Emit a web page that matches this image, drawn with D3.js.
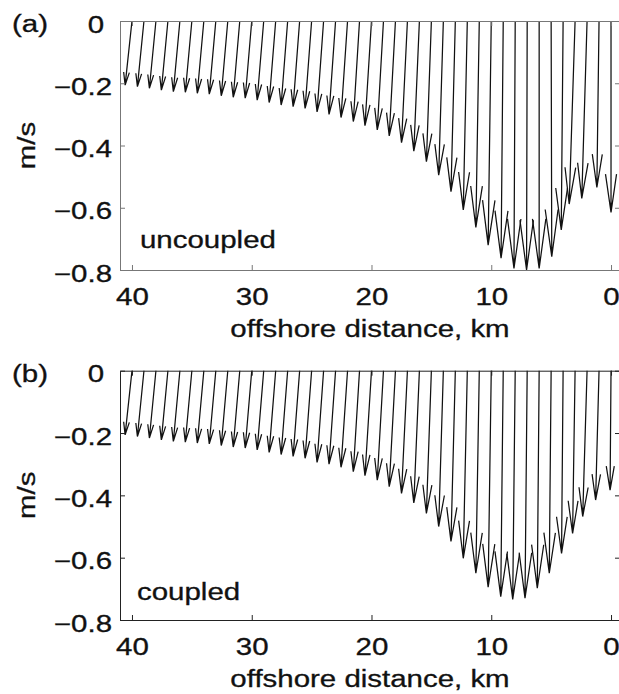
<!DOCTYPE html>
<html>
<head>
<meta charset="utf-8">
<script src="https://cdn.jsdelivr.net/npm/d3@7"></script>
<style>
  body { margin: 0; background: #fff; }
  text { font-family: "Liberation Sans", Arial, sans-serif; font-size: 23px; fill: #111; stroke: #111; stroke-width: 0.3px; }
</style>
</head>
<body>
<div id="chart"></div>
<script>
// offshore position of each vector, km
const distanceKm = [0, 1, 2, 3, 4, 5, 6, 7, 8, 9, 10, 11, 12, 13, 14, 15, 16, 17, 18, 19, 20,
  21, 22, 23, 24, 25, 26, 27, 28, 29, 30, 31, 32, 33, 34, 35, 36, 37, 38, 39, 40];

// (a) uncoupled: cross-shore (u, + shoreward) and alongshore (v) velocity, m/s
const uncoupledU = [0, -0.007, -0.017, -0.019, -0.006, 0.002, 0, -0.002, -0.004, -0.007, -0.010,
  -0.011, -0.013, -0.014, -0.015, -0.016, -0.018, -0.019, -0.020, -0.020, -0.021,
  -0.020, -0.021, -0.021, -0.021, -0.021, -0.021, -0.021, -0.021, -0.021, -0.021,
  -0.021, -0.021, -0.021, -0.021, -0.021, -0.021, -0.021, -0.021, -0.021, -0.022];
const uncoupledV = [-0.615, -0.535, -0.570, -0.588, -0.671, -0.757, -0.795, -0.800, -0.795, -0.762, -0.720,
  -0.663, -0.607, -0.548, -0.495, -0.452, -0.418, -0.391, -0.369, -0.350, -0.336,
  -0.323, -0.310, -0.300, -0.292, -0.281, -0.275, -0.270, -0.262, -0.254, -0.248,
  -0.245, -0.240, -0.235, -0.232, -0.229, -0.227, -0.222, -0.216, -0.211, -0.206];

// (b) coupled
const coupledU = [-0.003, -0.011, -0.014, -0.008, -0.005, -0.006, -0.006, -0.007, -0.008, -0.008, -0.010,
  -0.011, -0.013, -0.014, -0.015, -0.016, -0.018, -0.019, -0.020, -0.020, -0.021,
  -0.020, -0.021, -0.021, -0.021, -0.021, -0.021, -0.021, -0.021, -0.021, -0.021,
  -0.021, -0.021, -0.021, -0.021, -0.021, -0.021, -0.021, -0.021, -0.021, -0.022];
const coupledV = [-0.383, -0.415, -0.468, -0.522, -0.586, -0.650, -0.698, -0.730, -0.734, -0.725, -0.695,
  -0.650, -0.602, -0.548, -0.500, -0.458, -0.424, -0.394, -0.372, -0.351, -0.337,
  -0.324, -0.310, -0.300, -0.294, -0.281, -0.275, -0.269, -0.262, -0.254, -0.248,
  -0.245, -0.240, -0.235, -0.232, -0.229, -0.227, -0.222, -0.216, -0.211, -0.206];

const xTicks = [40, 30, 20, 10, 0];
const yTicks = [0, -0.2, -0.4, -0.6, -0.8];

const width = 619;
const height = 694;
const left = 120, right = 620;

const svg = d3.select("#chart")
  .append("svg")
  .attr("width", width)
  .attr("height", height);

const xScale = d3.scaleLinear().domain([41, -0.75]).range([left, right]);
const fmt = d => d === 0 ? "0" : d3.format(".1f")(d);

const panels = [
  { tag: "(a)", name: "uncoupled", u: uncoupledU, v: uncoupledV, top: 21, bottom: 270, axisColor: "#777", nameY: 248, nameX: 140 },
  { tag: "(b)", name: "coupled", u: coupledU, v: coupledV, top: 370.7, bottom: 620, axisColor: "#222", nameY: 600, nameX: 137 }
];

panels.forEach(p => {
  const yScale = d3.scaleLinear().domain([-0.8, 0]).range([p.bottom, p.top]);
  const pxPerMs = yScale(-1) - yScale(0);
  const g = svg.append("g");

  // arrows: shaft plus open head
  const arrows = distanceKm.map((km, i) => {
    const x0 = xScale(km), y0 = yScale(0);
    const x1 = x0 + p.u[i] * pxPerMs, y1 = yScale(p.v[i]);
    const dx = x1 - x0, dy = y1 - y0;
    const len = Math.hypot(dx, dy);
    const ux = dx / len, uy = dy / len;
    const h = 0.2 * len, w = 1.5 + 0.021 * len;
    const bx = x1 - ux * h, by = y1 - uy * h;
    return `M${x0},${y0}L${x1},${y1}` +
      `M${bx - uy * w},${by + ux * w}L${x1},${y1}L${bx + uy * w},${by - ux * w}`;
  });

  g.selectAll(".arrow")
    .data(arrows)
    .join("path")
    .attr("class", "arrow")
    .attr("d", d => d)
    .attr("fill", "none")
    .attr("stroke", "#111")
    .attr("stroke-width", 1.25);

  // axes, MATLAB style box with inward ticks
  const bottomAxis = g.append("g")
    .attr("transform", `translate(0,${p.bottom})`)
    .call(d3.axisBottom(xScale).tickValues(xTicks).tickSize(-5).tickSizeOuter(0).tickPadding(19).tickFormat(d3.format("d")));
  const topAxis = g.append("g")
    .attr("transform", `translate(0,${p.top})`)
    .call(d3.axisTop(xScale).tickValues(xTicks).tickSize(-5).tickSizeOuter(0).tickFormat(""));
  const leftAxis = g.append("g")
    .attr("transform", `translate(${left},0)`)
    .call(d3.axisLeft(yScale).tickValues(yTicks).tickSize(-5).tickSizeOuter(0).tickPadding(8).tickFormat(fmt));
  const rightAxis = g.append("g")
    .attr("transform", `translate(${right},0)`)
    .call(d3.axisRight(yScale).tickValues(yTicks).tickSize(-5).tickSizeOuter(0).tickFormat(""));

  [bottomAxis, topAxis, leftAxis, rightAxis].forEach(a => {
    a.attr("font-size", null).attr("font-family", null);
    a.selectAll("path, line").attr("stroke", p.axisColor);
    a.selectAll("text").attr("fill", "#111");
  });
  bottomAxis.selectAll("text").attr("dy", "0.71em");
  leftAxis.selectAll("text").attr("dy", "11px")
    .filter(d => d === 0).attr("x", -16);

  // labels
  g.append("text")
    .attr("x", 12)
    .attr("y", p.top + 11)
    .text(p.tag);

  g.append("text")
    .attr("x", p.nameX)
    .attr("y", p.nameY)
    .text(p.name);

  g.append("text")
    .attr("text-anchor", "middle")
    .attr("x", (left + right) / 2)
    .attr("y", p.bottom + 67)
    .text("offshore distance, km");

  g.append("text")
    .attr("text-anchor", "middle")
    .attr("transform", `translate(35,${(p.top + p.bottom) / 2}) rotate(-90)`)
    .text("m/s");
});

// the lettering in the figure is set wide; stretch every label the same way
svg.selectAll("text").each(function () {
  const t = d3.select(this);
  if (!t.text()) return;
  const w = this.getComputedTextLength();
  t.attr("textLength", w * 1.28).attr("lengthAdjust", "spacingAndGlyphs");
});
</script>
</body>
</html>
